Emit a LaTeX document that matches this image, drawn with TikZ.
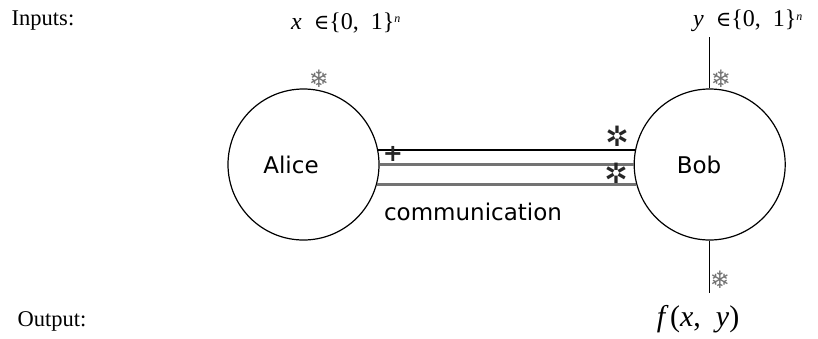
\documentclass[tikz,border=0pt]{standalone}
\usepackage{fontspec}
\setmainfont{Liberation Serif}
\newfontfamily\verd{DejaVu Sans}
\newfontfamily\symf{DejaVu Serif}
\usetikzlibrary{positioning}

\begin{document}
\begin{tikzpicture}[
  x=1pt, y=-1pt,
  party/.style={draw, circle, minimum size=151pt, inner sep=0pt, line width=1.2pt},
  who/.style={font=\verd\fontsize{23}{25}\selectfont, inner sep=0pt},
  rowtxt/.style={font=\fontsize{22.5}{26}\selectfont, inner sep=0pt},
  setlbl/.style={font=\fontsize{24}{28}\selectfont, inner sep=0pt, anchor=west},
  flake/.style={font=\verd\fontsize{24}{24}\selectfont, text=black!55, inner sep=0pt},
  tick/.style={font=\verd\fontsize{28}{28}\selectfont, inner sep=0pt, text=black!85},
  wire/.style={line width=1.3pt},
  gwire/.style={line width=2.6pt, draw=black!55}
]
  \useasboundingbox (0,0) rectangle (818,338);

  % the two parties
  \node[party] (alice) at (303.5,164.5) {};
  \node[party, right=254pt of alice] (bob) {};
  \node[who] (alicetxt) at (291,165) {Alice};
  \node[who] (bobtxt) at (699,165) {Bob};

  % channel
  \draw[wire] (alice.11) -- (bob.169);
  \draw[gwire] (alice.east) -- (bob.west);
  \draw[gwire] (alice.-15) -- (bob.195);
  \node[who] (comm) at (473,212) {communication};

  % row titles
  \node[rowtxt] (inputs) at (43,21) {Inputs:};
  \node[rowtxt] (output) at (52,321) {Output:};

  % inputs and output
  \node[setlbl] (xin) at (291,23) {\textit{x}\ \ {\symf\fontsize{21}{24}\selectfont ∈}\{0,\ \ 1\}\raisebox{0.6ex}{\fontsize{12}{12}\selectfont\textit{n}}};
  \node[setlbl] (yin) at (693,21) {\textit{y}\ \ {\symf\fontsize{21}{24}\selectfont ∈}\{0,\ \ 1\}\raisebox{0.6ex}{\fontsize{12}{12}\selectfont\textit{n}}};
  \node[font=\fontsize{30}{32}\selectfont, inner sep=0pt] (fxy) at (698,319) {\textit{f\,}(\textit{x},\ \ \textit{y})};
  \coordinate[above=51pt of bob.north] (ytop);
  \coordinate[below=52pt of bob.south] (fbot);
  \draw[wire] (ytop) -- (bob.north);
  \draw[wire] (bob.south) -- (fbot);

  % markers
  \node[flake] (fa) at (319,79) {❄};
  \node[flake] (fb) at (721,79) {❄};
  \node[flake] (fc) at (720,280) {❄};
  \node[tick, font=\verd\bfseries\fontsize{24}{24}\selectfont] (pa) at (393,154) {+};
  \node[tick] (sa) at (617,136) {✲};
  \node[tick] (sb) at (616,173) {✲};
\end{tikzpicture}
\end{document}
